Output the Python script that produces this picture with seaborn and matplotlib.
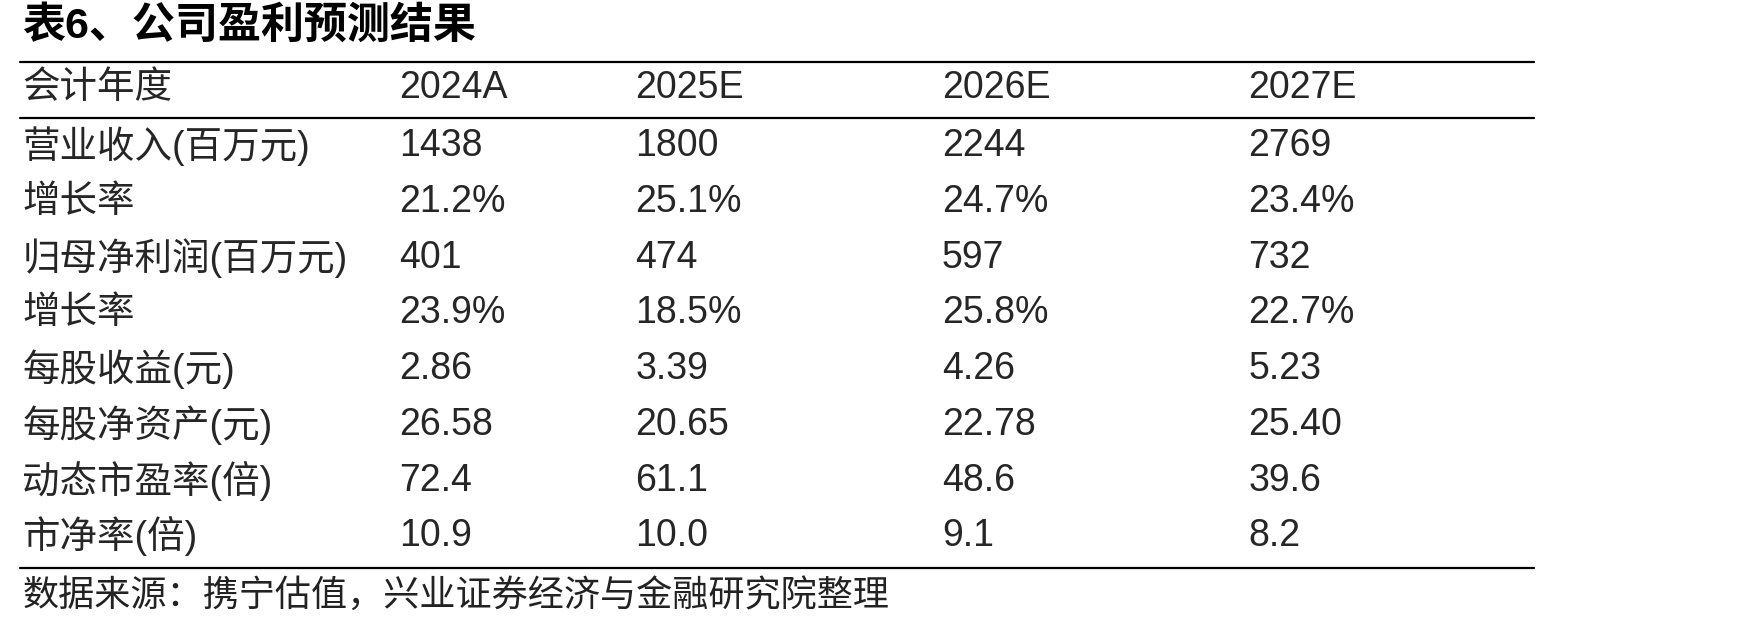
import matplotlib
matplotlib.use("Agg")
import matplotlib.pyplot as plt
import seaborn as sns

title = "表6、公司盈利预测结果"
header_label = "会计年度"
years = ["2024A", "2025E", "2026E", "2027E"]
row_labels = ["营业收入(百万元)", "增长率", "归母净利润(百万元)", "增长率",
              "每股收益(元)", "每股净资产(元)", "动态市盈率(倍)", "市净率(倍)"]
col_2024 = ["1438", "21.2%", "401", "23.9%", "2.86", "26.58", "72.4", "10.9"]
col_2025 = ["1800", "25.1%", "474", "18.5%", "3.39", "20.65", "61.1", "10.0"]
col_2026 = ["2244", "24.7%", "597", "25.8%", "4.26", "22.78", "48.6", "9.1"]
col_2027 = ["2769", "23.4%", "732", "22.7%", "5.23", "25.40", "39.6", "8.2"]
source = "数据来源：携宁估值，兴业证券经济与金融研究院整理"

sns.set_theme(style="white")
plt.rcParams['font.family'] = ['Liberation Sans', 'Noto Sans CJK SC', 'DejaVu Sans']

fig = plt.figure(figsize=(17.48, 6.29), dpi=100)
ax = fig.add_axes([0, 0, 1, 1])
ax.set_xlim(0, 1568)
ax.set_ylim(564, 0)
ax.axis("off")

fs = 27
colx = [20, 358, 570, 845, 1120]
ax.text(20, 24, title, fontsize=31, fontweight="bold", va="center", ha="left", color="black")
for y in (56, 106, 509):
    ax.plot([18, 1376], [y, y], color="black", lw=1.6)
ax.text(colx[0], 79, header_label, fontsize=fs, va="center")
for x, yr in zip(colx[1:], years):
    ax.text(x, 79, yr, fontsize=fs, va="center")
cols = [col_2024, col_2025, col_2026, col_2027]
for i, lab in enumerate(row_labels):
    y = 131 + i * 50
    ax.text(colx[0], y, lab, fontsize=fs, va="center")
    for x, c in zip(colx[1:], cols):
        ax.text(x, y, c[i], fontsize=fs, va="center")
ax.text(20, 535, source, fontsize=26, va="center", color="#222222")

fig.savefig("out.png", dpi=100)
